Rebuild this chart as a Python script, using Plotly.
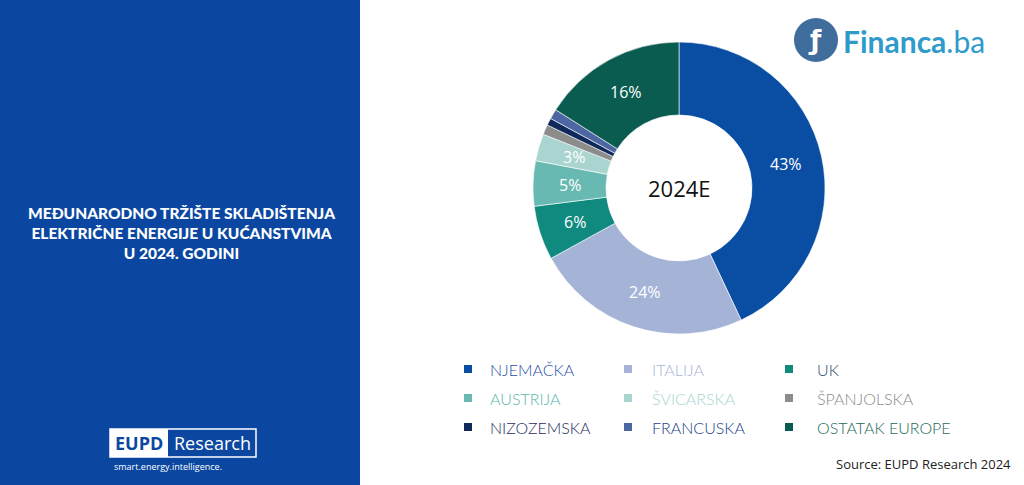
import math
import plotly.graph_objects as go

labels = ["NJEMAČKA", "ITALIJA", "UK", "AUSTRIJA", "ŠVICARSKA", "ŠPANJOLSKA",
          "NIZOZEMSKA", "FRANCUSKA", "OSTATAK EUROPE"]
values = [43, 24, 6, 5, 3, 1.1, 0.8, 1.1, 16]
slice_colors = ["#0a4ea4", "#a5b3d7", "#10897f", "#68b9b1", "#a9d4cf", "#8c8c8c",
                "#10295a", "#4d67a2", "#0b5c50"]
legend_text_colors = ["#1f4fa8", "#a9b6d8", "#2c4a78", "#5cb8ad", "#a9d4cf", "#8a8a8a",
                      "#1c2e5a", "#22408a", "#1e6b5a"]

W, H = 1024, 485
BLUE = "#0b47a1"

# pie geometry (pixels)
CX, CY, R_OUT, HOLE = 679, 188, 146, 0.5

fig = go.Figure()
fig.add_trace(go.Pie(
    labels=labels, values=values, hole=HOLE, sort=False, direction="clockwise",
    rotation=0, marker=dict(colors=slice_colors, line=dict(color="white", width=0.6)),
    textinfo="none",
    domain=dict(x=[(CX - R_OUT) / W, (CX + R_OUT) / W], y=[1 - (CY + R_OUT) / H, 1 - (CY - R_OUT) / H]),
    showlegend=False, hoverinfo="label+percent",
))

shapes = []
annotations = []


def ann(x, y, text, size, color, family="Open Sans", xanchor="center", weight="normal", align="center"):
    annotations.append(dict(x=x / W, y=1 - y / H, xref="paper", yref="paper", showarrow=False,
                            text=text, xanchor=xanchor, yanchor="middle", align=align,
                            font=dict(family=family, size=size, color=color, weight=weight)))


# percentage labels at the middle of each slice (from the values)
total = sum(values)
cum = 0.0
r_mid = R_OUT * (1 + HOLE) / 2
for v in values:
    mid = (cum + v / 2) / total * 2 * math.pi
    cum += v
    if v >= 3:
        ann(CX + r_mid * math.sin(mid), CY - r_mid * math.cos(mid), f"{v:.0f}%", 16, "white")

# left blue panel
shapes.append(dict(type="rect", xref="paper", yref="paper", x0=0, x1=360 / W, y0=0, y1=1,
                   fillcolor=BLUE, line=dict(width=0), layer="below"))

# title
ann(182, 233, "MEĐUNARODNO TRŽIŠTE SKLADIŠTENJA<br>ELEKTRIČNE ENERGIJE U KUĆANSTVIMA<br>U 2024. GODINI",
    15.5, "white", family="Lato", weight=900)

# centre label
ann(CX, CY, "2024E", 22, "#111111")

# legend grid
col_sq = [468, 628, 789]
col_tx = [488, 650, 815]
row_y = [369, 398, 427]
for i, (lab, c, tc) in enumerate(zip(labels, slice_colors, legend_text_colors)):
    r, k = divmod(i, 3)
    sx, sy = col_sq[k], row_y[r]
    shapes.append(dict(type="rect", xref="paper", yref="paper",
                       x0=(sx - 4) / W, x1=(sx + 4) / W, y0=1 - (sy + 4) / H, y1=1 - (sy - 4) / H,
                       fillcolor=c, line=dict(width=0)))
    ann(col_tx[k], sy, lab, 16, tc, family="Lato", xanchor="left", weight=300)

# Financa.ba logo
shapes.append(dict(type="circle", xref="paper", yref="paper",
                   x0=794 / W, x1=838 / W, y0=1 - 62 / H, y1=1 - 18 / H,
                   fillcolor="#3f6d9c", line=dict(width=0)))
ann(815, 40, "<b>ƒ</b>", 26, "white", family="DejaVu Sans")
ann(841, 41, "<b>Financa</b>.ba", 30, "#2e9bcb", family="Lato", xanchor="left")

# EUPD Research logo
shapes.append(dict(type="rect", xref="paper", yref="paper",
                   x0=110 / W, x1=256 / W, y0=1 - 457 / H, y1=1 - 429 / H,
                   fillcolor=BLUE, line=dict(color="white", width=1.5)))
shapes.append(dict(type="rect", xref="paper", yref="paper",
                   x0=110 / W, x1=168 / W, y0=1 - 457 / H, y1=1 - 429 / H,
                   fillcolor="white", line=dict(width=0)))
ann(139, 443, "<b>EUPD</b>", 18, BLUE)
ann(212, 443, "Research", 18, "white")
ann(112, 466, "smart.energy.intelligence.", 9, "white", xanchor="left")

# source
ann(1013, 464, "Source: EUPD Research 2024", 13, "#222222", xanchor="right")

fig.update_layout(width=W, height=H, margin=dict(l=0, r=0, t=0, b=0),
                  paper_bgcolor="white", plot_bgcolor="white",
                  shapes=shapes, annotations=annotations)

fig.write_html("out.html")
